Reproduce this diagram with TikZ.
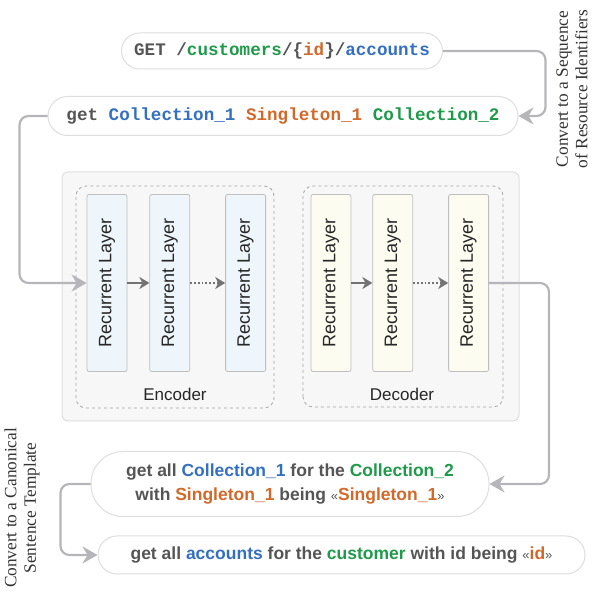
\documentclass[tikz,border=0pt]{standalone}
\usepackage{fontspec}
\setmainfont{Liberation Serif}
\setsansfont{Liberation Sans}
\setmonofont{Liberation Mono}
\usepackage{tikz}
\usetikzlibrary{arrows.meta,positioning,calc}
\definecolor{colblue}{HTML}{3470C0}
\definecolor{colgreen}{HTML}{1F9A4A}
\definecolor{colorange}{HTML}{D2692A}
\definecolor{txtgray}{HTML}{555555}
\definecolor{linegray}{HTML}{B6B6BA}
\definecolor{encfill}{HTML}{EEF6FB}
\definecolor{decfill}{HTML}{FCFCF1}
\newcommand{\cblue}[1]{\textcolor{colblue}{#1}}
\newcommand{\cgreen}[1]{\textcolor{colgreen}{#1}}
\newcommand{\corange}[1]{\textcolor{colorange}{#1}}
\newcommand{\gopen}{{\mdseries\fontsize{13}{13}\selectfont«}}
\newcommand{\gclose}{{\mdseries\fontsize{13}{13}\selectfont»}}
\tikzset{
    pill/.style={draw=black!13, fill=white, line width=1pt, inner sep=0pt, text=txtgray},
    code/.style={pill, font=\fontsize{17.6}{21}\selectfont\ttfamily\bfseries},
    sentence/.style={pill, align=center, font=\fontsize{17.5}{24}\selectfont\sffamily\bfseries},
    layer/.style={draw=black!25, line width=0.8pt, rounded corners=2pt, minimum width=40pt, minimum height=177pt, inner sep=0pt, font=\fontsize{18}{21}\selectfont\sffamily, text=black!85},
    enc/.style={layer, fill=encfill},
    dec/.style={layer, fill=decfill},
    conn/.style={draw=linegray, line width=2.2pt, rounded corners=9pt, -{Stealth[length=15pt, width=17pt, inset=5pt]}},
    flow/.style={draw=black!55, line width=1.8pt, -{Stealth[length=10pt, width=12pt, inset=3pt]}},
    flowdots/.style={flow, dotted},
    group/.style={draw=black!35, dashed, line width=0.8pt, rounded corners=10pt},
    note/.style={rotate=90, align=center, font=\fontsize{17.3}{19.5}\selectfont\rmfamily, text=black!80}
}

\begin{document}
\begin{tikzpicture}[x=1pt, y=1pt]
    \useasboundingbox (0,0) rectangle (595,601);
    % model frame
    \draw[draw=black!13, fill=black!3, line width=1pt, rounded corners=6pt] (62,180) rectangle (519,429);
    \draw[group] (76,193) rectangle (274,415);
    \draw[group] (303,194) rectangle (503,415);
    \node[font=\fontsize{17}{20}\selectfont\sffamily, text=black!85] (enclabel) at (175,207) {Encoder};
    \node[font=\fontsize{17}{20}\selectfont\sffamily, text=black!85] (declabel) at (402,207) {Decoder};

    % input / output texts
    \node[code, minimum width=321pt, minimum height=36pt, rounded corners=18pt] (request) at (282,550)
        {GET /\cgreen{customers}/\{\corange{id}\}/\cblue{accounts}};
    \node[code, minimum width=470pt, minimum height=39pt, rounded corners=19.5pt] (sequence) at (283,485)
        {get \cblue{Collection\_1} \corange{Singleton\_1} \cgreen{Collection\_2}};
    \node[sentence, minimum width=398pt, minimum height=65pt, rounded corners=32pt] (template) at (290,117)
        {get all \cblue{Collection\_1} for the \cgreen{Collection\_2}\\with \corange{Singleton\_1} being \gopen\corange{Singleton\_1}\gclose};
    \node[sentence, minimum width=487pt, minimum height=38pt, rounded corners=19pt] (final) at (341.5,46)
        {get all \cblue{accounts} for the \cgreen{customer} with id being \gopen\corange{id}\gclose};

    % layers
    \node[enc] (e1) at (107,318) {\rotatebox{90}{Recurrent Layer}};
    \node[enc, right=22pt of e1] (e2) {\rotatebox{90}{Recurrent Layer}};
    \node[enc, right=35pt of e2] (e3) {\rotatebox{90}{Recurrent Layer}};
    \node[dec] (d1) at (331,318) {\rotatebox{90}{Recurrent Layer}};
    \node[dec, right=21pt of d1] (d2) {\rotatebox{90}{Recurrent Layer}};
    \node[dec, right=35pt of d2] (d3) {\rotatebox{90}{Recurrent Layer}};
    \draw[flow] (e1) -- (e2);
    \draw[flowdots] (e2) -- (e3);
    \draw[flow] (d1) -- (d2);
    \draw[flowdots] (d2) -- (d3);

    % side notes
    \node[note] (seqnote) at (572,512) {Convert to a Sequence\\of Resource Identifiers};
    \node[note] (tplnote) at (22,93) {Convert to a Canonical\\Sentence Template};

    % connectors
    \draw[conn] (request.east) -- ++(102.5,0) |- (sequence.east);
    \draw[conn] (sequence.west) -- ++(-28,0) |- (e1.west);
    \draw[conn] (d3.east) -- ++(60,0) |- (template.east);
    \draw[conn] (template.west) -- ++(-30,0) |- (final.west);
\end{tikzpicture}
\end{document}
